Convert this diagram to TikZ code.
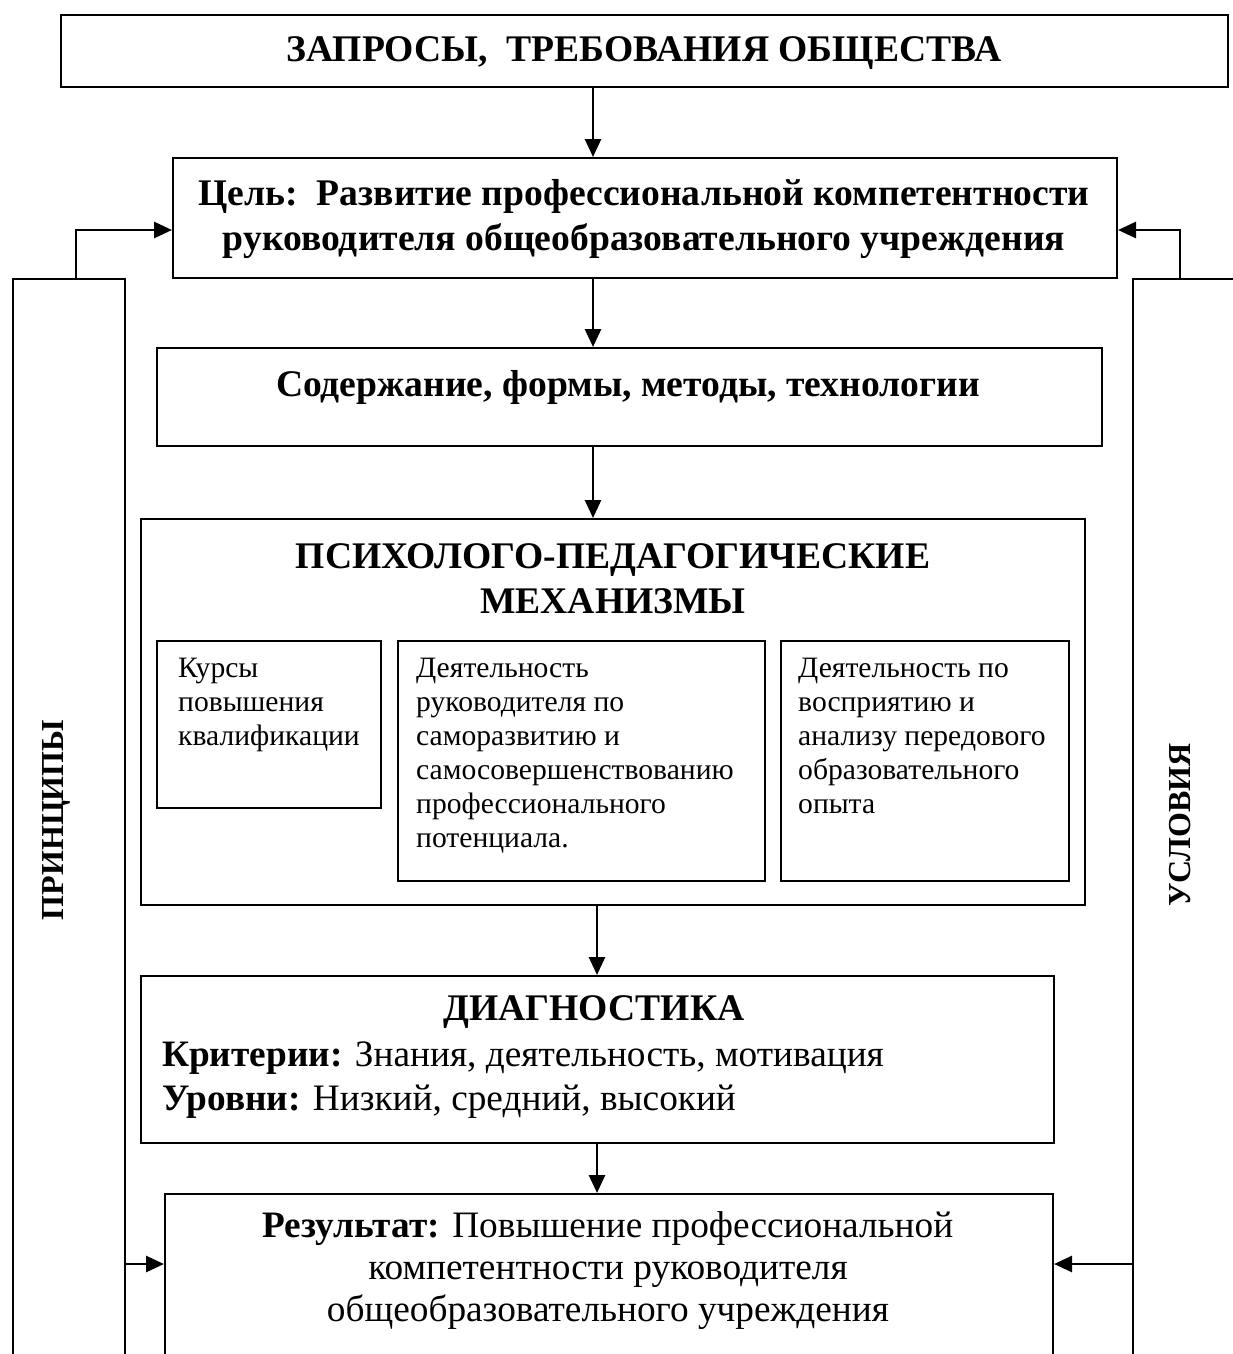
\documentclass[tikz,border=0pt]{standalone}
\usepackage{fontspec}
\setmainfont{Liberation Serif}
\usetikzlibrary{arrows.meta}
\begin{document}
\begin{tikzpicture}[x=1pt,y=-1pt,
  box/.style={draw,line width=2pt,inner sep=0pt,anchor=north west},
  conn/.style={line width=2.8pt,-{Triangle[length=18pt,width=16pt]}},
  big/.style={font=\fontsize{37.6}{45}\selectfont\bfseries,align=center,inner sep=0pt},
  side/.style={font=\fontsize{32}{38}\selectfont\bfseries,inner sep=0pt,rotate=90},
  mid/.style={font=\fontsize{37.3}{44}\selectfont,align=left,inner sep=0pt},
  small/.style={font=\fontsize{29.6}{34}\selectfont,align=left,inner sep=0pt,anchor=north west},
]
\useasboundingbox (0,0) rectangle (1233,1354);
% boxes
\node[box,minimum width=1167pt,minimum height=72pt] (top) at (60,14) {};
\node[box,minimum width=944pt,minimum height=120pt] (goal) at (172,157) {};
\node[box,minimum width=112pt,minimum height=1120pt] (lbar) at (12,278) {};
\node[box,minimum width=160pt,minimum height=1120pt] (rbar) at (1132,278) {};
\node[box,minimum width=945pt,minimum height=98pt] (cont) at (156,347) {};
\node[box,minimum width=944pt,minimum height=386pt] (mech) at (140,518) {};
\node[box,minimum width=224pt,minimum height=167pt] (s1) at (156,640) {};
\node[box,minimum width=367pt,minimum height=240pt] (s2) at (397,640) {};
\node[box,minimum width=288pt,minimum height=240pt] (s3) at (780,640) {};
\node[box,minimum width=913pt,minimum height=167pt] (diag) at (140,975) {};
\node[box,minimum width=888pt,minimum height=220pt] (res) at (164,1193) {};
% texts
\node[big] (toptxt) at (644,53) {ЗАПРОСЫ,~~ТРЕБОВАНИЯ ОБЩЕСТВА};
\node[big] (goaltxt) at (644,219) {Цель:~~Развитие профессиональной компетентности\\руководителя общеобразовательного учреждения};
\node[big] (conttxt) at (628,387) {Содержание, формы, методы, технологии};
\node[big] (mechtxt) at (613,579) {ПСИХОЛОГО-ПЕДАГОГИЧЕСКИЕ\\МЕХАНИЗМЫ};
\node[small] (s1txt) at (178,658) {Курсы\\повышения\\квалификации};
\node[small] (s2txt) at (416,658) {Деятельность\\руководителя по\\саморазвитию и\\самосовершенствованию\\профессионального\\потенциала.};
\node[small] (s3txt) at (798,658) {Деятельность по\\восприятию и\\анализу передового\\образовательного\\опыта};
\node[big] (diagtit) at (594,1012) {ДИАГНОСТИКА};
\node[mid,anchor=west] (diagtxt) at (162,1080) {\textbf{Критерии:} Знания, деятельность, мотивация\\\textbf{Уровни:} Низкий, средний, высокий};
\node[mid,align=center,font=\fontsize{37.3}{42}\selectfont] (restxt) at (608,1271) {\textbf{Результат:} Повышение профессиональной\\компетентности руководителя\\общеобразовательного учреждения};
\node[side] (princ) at (56,820) {ПРИНЦИПЫ};
\node[side] (usl) at (1180,825) {УСЛОВИЯ};
% connectors
\draw[conn] (top.south -| 593,0) -- (goal.north -| 593,0);
\draw[conn] (goal.south -| 593,0) -- (cont.north -| 593,0);
\draw[conn] (cont.south -| 593,0) -- (mech.north -| 593,0);
\draw[conn] (mech.south -| 597,0) -- (diag.north -| 597,0);
\draw[conn] (diag.south -| 597,0) -- (res.north -| 597,0);
\draw[conn] (76,0 |- lbar.north) |- (goal.west |- 0,230);
\draw[conn] (1180,0 |- rbar.north) |- (goal.east |- 0,230);
\draw[conn] (lbar.east |- 0,1264) -- (res.west |- 0,1264);
\draw[conn] (rbar.west |- 0,1264) -- (res.east |- 0,1264);
\end{tikzpicture}
\end{document}
